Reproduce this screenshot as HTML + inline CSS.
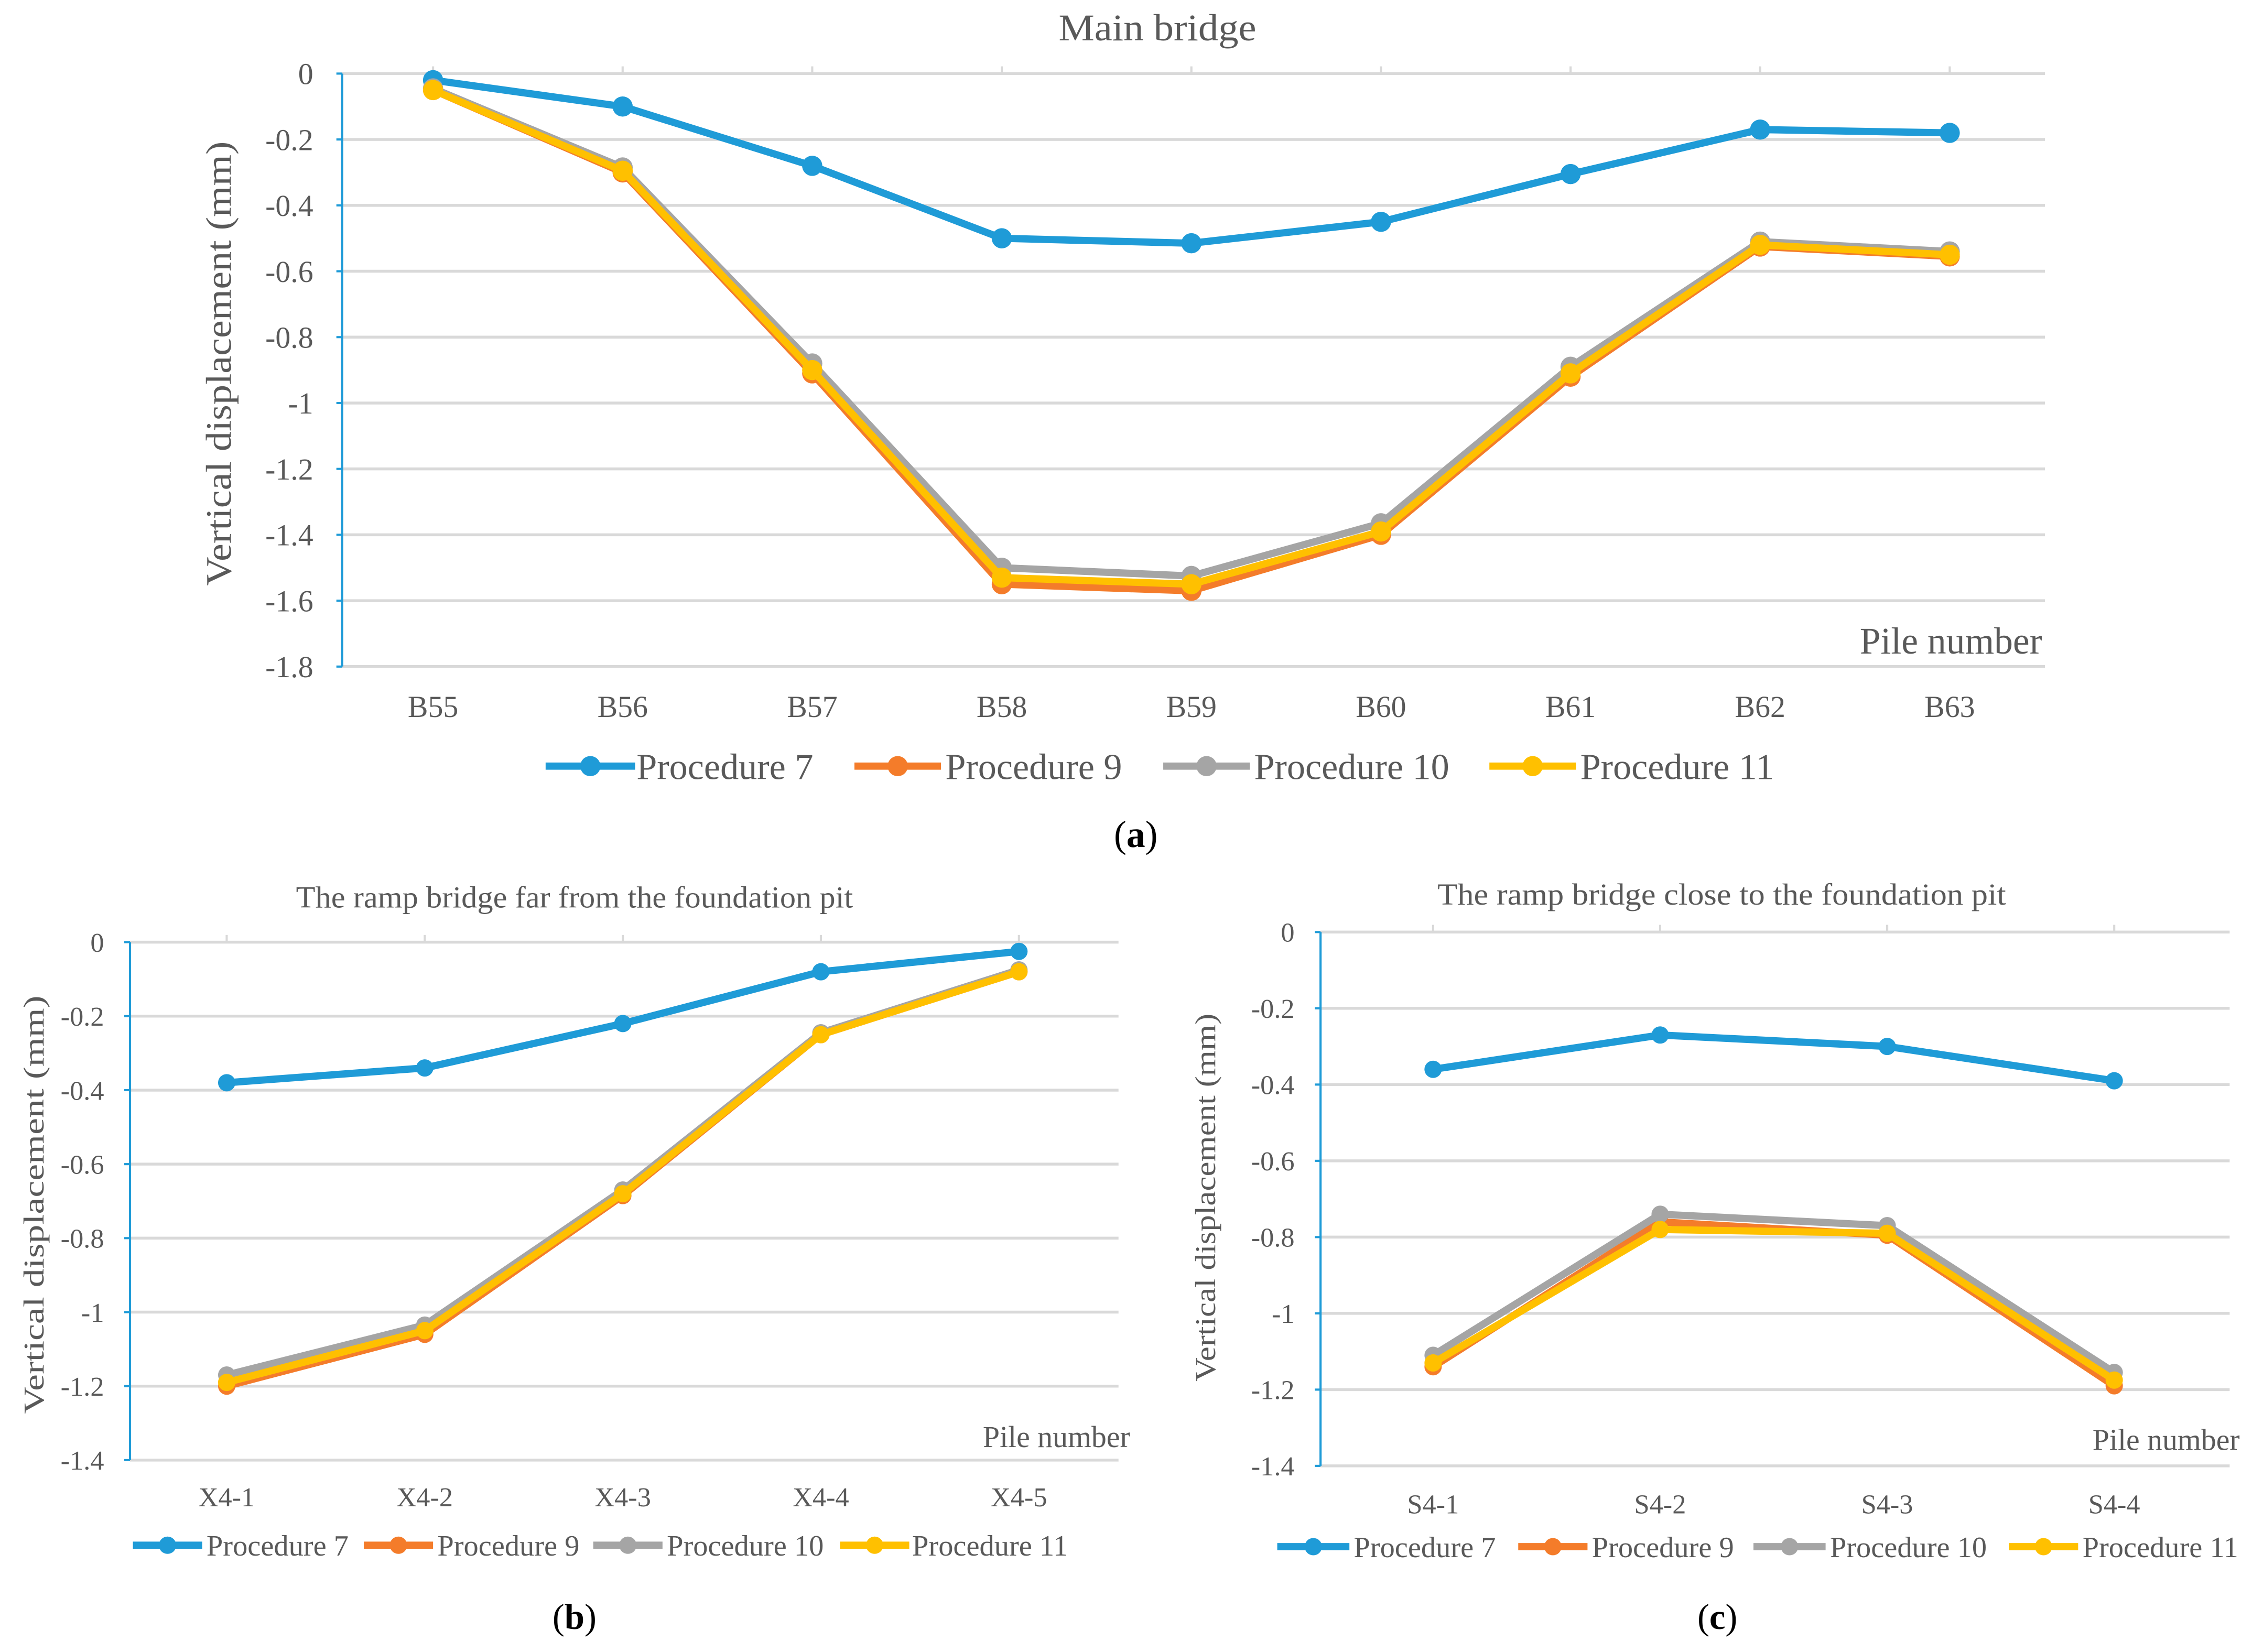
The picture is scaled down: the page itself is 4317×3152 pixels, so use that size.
<!DOCTYPE html>
<html><head><meta charset="utf-8"><style>
html,body{margin:0;padding:0;background:#fff}
svg{display:block}
text{font-family:"Liberation Serif",serif;fill:#595959}
</style></head><body>
<svg id="fig" width="4317" height="3152" viewBox="0 0 1568 1145" xmlns="http://www.w3.org/2000/svg"></svg>
<script>
// Chart (a) data
const catsA = ["B55","B56","B57","B58","B59","B60","B61","B62","B63"];
const a7 = [-0.02,-0.10,-0.28,-0.50,-0.515,-0.45,-0.305,-0.17,-0.18];
const a9 = [-0.05,-0.30,-0.91,-1.55,-1.57,-1.40,-0.92,-0.525,-0.555];
const a10 = [-0.045,-0.285,-0.88,-1.50,-1.525,-1.365,-0.89,-0.51,-0.54];
const a11 = [-0.05,-0.295,-0.90,-1.53,-1.55,-1.39,-0.91,-0.52,-0.55];
const ticksA = [0,-0.2,-0.4,-0.6,-0.8,-1,-1.2,-1.4,-1.6,-1.8];
// Chart (b) data
const catsB = ["X4-1","X4-2","X4-3","X4-4","X4-5"];
const b7 = [-0.38,-0.34,-0.22,-0.08,-0.025];
const b9 = [-1.20,-1.06,-0.685,-0.25,-0.08];
const b10 = [-1.17,-1.035,-0.67,-0.245,-0.075];
const b11 = [-1.19,-1.05,-0.68,-0.25,-0.08];
const ticksB = [0,-0.2,-0.4,-0.6,-0.8,-1,-1.2,-1.4];
// Chart (c) data
const catsC = ["S4-1","S4-2","S4-3","S4-4"];
const c7 = [-0.36,-0.27,-0.30,-0.39];
const c9 = [-1.14,-0.76,-0.795,-1.19];
const c10 = [-1.11,-0.74,-0.77,-1.155];
const c11 = [-1.13,-0.78,-0.79,-1.175];
const ticksC = [0,-0.2,-0.4,-0.6,-0.8,-1,-1.2,-1.4];
const seriesNames = ["Procedure 7","Procedure 9","Procedure 10","Procedure 11"];

const NS="http://www.w3.org/2000/svg";
const svg=document.getElementById('fig');
const colors=["#1f9bd7","#f47c2a","#a5a5a5","#ffc000"];
function mk(tag,attrs,parent,txt){const e=document.createElementNS(NS,tag);for(const k in attrs)e.setAttribute(k,attrs[k]);if(txt!==undefined)e.textContent=txt;(parent||svg).appendChild(e);return e;}

function chart(o){
  const g=mk('g',{});
  
  
  const ymin=o.ticks[o.ticks.length-1];
  const Y=v=>o.y0+(v/ymin)*(o.y1-o.y0);
  const X=i=>o.xFirst+i*(o.xLast-o.xFirst)/(o.cats.length-1);
  o.ticks.forEach(t=>{
    const gl=mk('line',{x1:o.xa,x2:o.xr,y1:Y(t),y2:Y(t),stroke:'#d9d9d9','stroke-width':o.grid},g);
    
    
    const tl=mk('text',{x:o.xa-o.tickGap,y:Y(t)+o.fs*0.35,'text-anchor':'end','font-size':o.fs},g,String(t));
    
    
    mk('line',{x1:o.xa-4,x2:o.xa,y1:Y(t),y2:Y(t),stroke:'#1f9bd7','stroke-width':1.5},g);
  });
  const ax=mk('line',{x1:o.xa,x2:o.xa,y1:o.y0,y2:o.y1,stroke:'#1f9bd7','stroke-width':1.5},g);
  
  
  o.cats.forEach((c,i)=>{
    mk('line',{x1:X(i),x2:X(i),y1:o.y0-5,y2:o.y0,stroke:'#d9d9d9','stroke-width':1.5},g);
    const xl=mk('text',{x:X(i),y:o.xly,'text-anchor':'middle','font-size':o.fs},g,c);
    
    
  });
  o.series.forEach((s,k)=>{
    const sg=mk('g',{},g);
    
    
    mk('polyline',{points:s.map((v,i)=>X(i)+','+Y(v)).join(' '),fill:'none',stroke:colors[k],'stroke-width':o.lw,'stroke-linejoin':'round'},sg);
    s.forEach((v,i)=>{
      const p=mk('circle',{cx:X(i),cy:Y(v),r:o.r,fill:colors[k]},sg);
      
      
    });
  });
  const t=mk('text',{x:o.tx,y:o.ty,'text-anchor':'middle','font-size':o.tfs,textLength:o.ttl,lengthAdjust:'spacingAndGlyphs'},g,o.title);
  
  
  const yt=mk('text',{x:0,y:0,'text-anchor':'middle','font-size':o.yfs,transform:`translate(${o.ytx},${o.yty}) rotate(-90)`,textLength:o.ytl,lengthAdjust:'spacingAndGlyphs'},g,'Vertical displacement (mm)');
  
  
  const pn=mk('text',{x:o.pnx,y:o.pny,'text-anchor':'end','font-size':o.pfs},g,'Pile number');
  
  
  o.leg.forEach((L,k)=>{
    const lg=mk('g',{},g);
    
    
    mk('line',{x1:L[0],x2:L[1],y1:o.ly,y2:o.ly,stroke:colors[k],'stroke-width':o.lw},lg);
    mk('circle',{cx:(L[0]+L[1])/2,cy:o.ly,r:o.r,fill:colors[k]},lg);
    mk('text',{x:L[2],y:o.ly+o.lfs*0.35,'font-size':o.lfs},lg,seriesNames[k]);
  });
  const cap=mk('text',{x:o.cx,y:o.cy,'text-anchor':'middle','font-size':o.cfs,style:'fill:#000'},g);
  
  
  cap.innerHTML='(<tspan font-weight="bold">'+o.cap+'</tspan>)';
}

chart({name:'chart-main-bridge',cats:catsA,series:[a7,a9,a10,a11],ticks:ticksA,
  xa:237,xr:1417,y0:51,y1:462,xFirst:300,xLast:1351,fs:21,tickGap:20,xly:497,grid:2,lw:5,r:7,
  title:'Main bridge',tx:802,ty:28,tfs:26,ttl:137,ytx:160,yty:252,yfs:25,ytl:308,
  pnx:1415,pny:453,pfs:26,ly:531,lfs:25.5,leg:[[378,440,441],[592,652,655],[806,866,869],[1032,1092,1095]],
  cx:787,cy:587,cfs:26,cap:'a'});
chart({name:'chart-ramp-far',cats:catsB,series:[b7,b9,b10,b11],ticks:ticksB,
  xa:90,xr:775,y0:653,y1:1012,xFirst:157,xLast:706,fs:19,tickGap:18,xly:1044,grid:2,lw:5,r:6,
  title:'The ramp bridge far from the foundation pit',tx:398,ty:629,tfs:21,ttl:386,ytx:30,yty:835,yfs:20,ytl:290,
  pnx:783,pny:1003,pfs:21,ly:1071,lfs:20.5,leg:[[92,140,143],[252,300,303],[411,459,462],[582,630,632]],
  cx:398,cy:1129,cfs:25,cap:'b'});
chart({name:'chart-ramp-close',cats:catsC,series:[c7,c9,c10,c11],ticks:ticksC,
  xa:915,xr:1545,y0:646,y1:1016,xFirst:993,xLast:1465,fs:19,tickGap:18,xly:1049,grid:2,lw:5,r:6,
  title:'The ramp bridge close to the foundation pit',tx:1193,ty:627,tfs:21,ttl:394,ytx:842,yty:830,yfs:20,ytl:255,
  pnx:1552,pny:1005,pfs:21,ly:1072,lfs:20.5,leg:[[885,935,938],[1052,1100,1103],[1215,1265,1268],[1392,1440,1443]],
  cx:1190,cy:1129,cfs:25,cap:'c'});
</script>
</body></html>
